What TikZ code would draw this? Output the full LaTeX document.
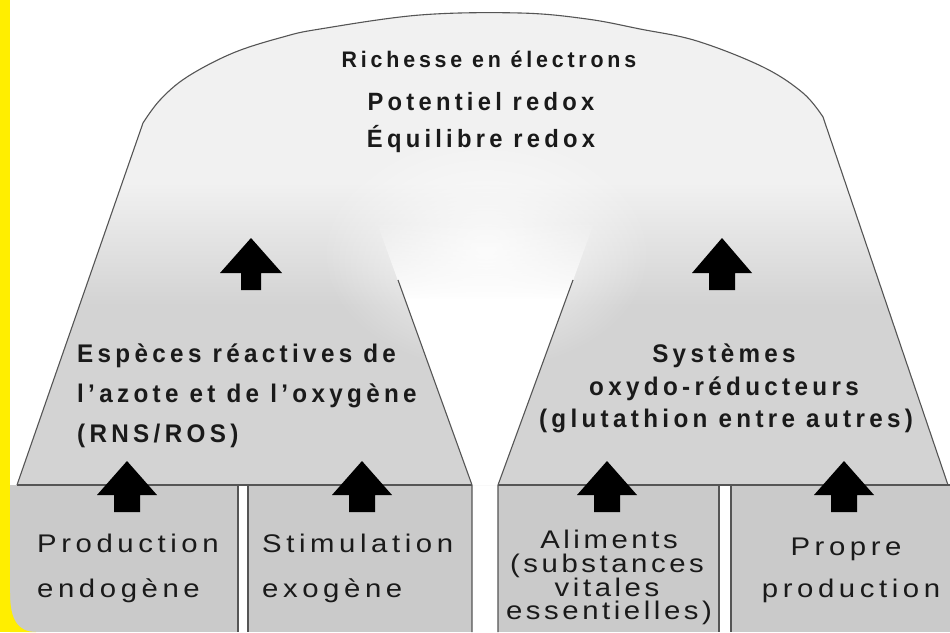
\documentclass[tikz,border=0pt]{standalone}
\usepackage{fontspec}
\usetikzlibrary{fadings}
\setmainfont{Liberation Sans}
\newfontfamily\hb{Liberation Sans}[LetterSpace=17, FakeStretch=0.95]
\newfontfamily\hr{Liberation Sans}[LetterSpace=18, FakeStretch=1.15]
\newfontfamily\hrs{Liberation Sans}[LetterSpace=14, FakeStretch=1.15]
\definecolor{gA}{HTML}{F1F1F1}
\definecolor{gB}{HTML}{D3D3D3}
\definecolor{boxc}{HTML}{CACACA}
\definecolor{lc}{HTML}{555555}
\definecolor{tc}{HTML}{1A1A1A}
\definecolor{ylw}{RGB}{255,238,0}
\pgfdeclareverticalshading{domeshade}{100bp}{color(0bp)=(gB); color(44bp)=(gB); color(57bp)=(gA); color(100bp)=(gA)}
\tikzfading[name=glowfade, inner color=transparent!15, outer color=transparent!100]
\tikzfading[name=gapfade, top color=transparent!100, bottom color=transparent!0]
\newcommand\blockarrow[6]{% cx, tip, headbase, bottom, head half width, shaft half width
  \fill[black] (#1,#2) -- ({#1+#5},#3) -- ({#1+#6},#3) -- ({#1+#6},#4) -- ({#1-#6},#4) -- ({#1-#6},#3) -- ({#1-#5},#3) -- cycle;}
\tikzset{
  bt/.style={font=\hb\bfseries\fontsize{25}{30}\selectfont, inner sep=0pt, text=tc},
  btm/.style={font=\hb\bfseries\fontsize{25.5}{30}\selectfont, inner sep=0pt, text=tc},
  btsmall/.style={font=\hb\bfseries\fontsize{22.5}{28}\selectfont, inner sep=0pt, text=tc},
  rt/.style={font=\hr\fontsize{25.5}{30}\selectfont, inner sep=0pt, text=tc},
  rts/.style={font=\hrs\fontsize{25.5}{30}\selectfont, inner sep=0pt, text=tc},
  outline/.style={draw=lc, line width=1.1pt}
}
\begin{document}
\begin{tikzpicture}[x=1pt,y=-1pt]
\useasboundingbox (0,0) rectangle (950,632);
\fill[white] (0,0) rectangle (950,632);
% dome fill
\shade[shading=domeshade] (17,485) -- (143,123) -- plot[smooth, tension=0.6] coordinates {(143,123) (160,100) (187,77) (233,53) (283,37) (320,29) (420,15) (520,13) (587,19) (640,29) (697,41) (763,67) (803,93) (823,117)} -- (948,485) -- cycle;
% soft light area above the gap
\fill[white, path fading=glowfade] (486,250) ellipse [x radius=165, y radius=120];
\fill[white, path fading=gapfade] (376,220) -- (405,300) -- (566,300) -- (595,220) -- cycle;
\fill[white] (405,299) -- (472,485) -- (498,485) -- (566,299) -- cycle;
% bottom boxes
\fill[boxc] (0,485) rectangle (238,632);
\fill[boxc] (248,485) rectangle (472,632);
\fill[boxc] (498,485) rectangle (719,632);
\fill[boxc] (731,485) rectangle (950,632);
% outlines
\draw[outline] (17,485) -- (143,123) -- plot[smooth, tension=0.6] coordinates {(143,123) (160,100) (187,77) (233,53) (283,37) (320,29) (420,15) (520,13) (587,19) (640,29) (697,41) (763,67) (803,93) (823,117)} -- (948,485);
\draw[outline] (398,280) -- (472,485) -- (472,632);
\draw[outline] (573,280) -- (498,485) -- (498,632);
\draw[outline] (17,485) -- (472,485);
\draw[outline] (498,485) -- (950,485);
\draw[outline] (238,485) -- (238,632);
\draw[outline] (248,485) -- (248,632);
\draw[outline] (719,485) -- (719,632);
\draw[outline] (731,485) -- (731,632);
% arrows
\blockarrow{251}{238}{273}{290}{31}{10}
\blockarrow{722}{238}{273}{290}{30}{13}
\blockarrow{127}{461}{495}{512}{30}{13}
\blockarrow{362}{461}{495}{512}{30}{13}
\blockarrow{607}{461}{495}{512}{30}{13}
\blockarrow{844}{461}{495}{512}{30}{13}
% top texts
\node[btsmall, anchor=base] (t1) at (489,67) {Richesse en électrons};
\node[bt, anchor=base] (t2) at (481,110) {Potentiel redox};
\node[bt, anchor=base] (t3) at (481,147) {Équilibre redox};
% left trapezoid
\node[btm, anchor=base west] (l1) at (77,362) {Espèces réactives de};
\node[btm, anchor=base west] (l2) at (77,402) {l’azote et de l’oxygène};
\node[btm, anchor=base west] (l3) at (77,442) {(RNS/ROS)};
% right trapezoid
\node[btm, anchor=base] (r1) at (724,362) {Systèmes};
\node[btm, anchor=base] (r2) at (724,395) {oxydo-réducteurs};
\node[btm, anchor=base] (r3) at (726,427) {(glutathion entre autres)};
% boxes
\node[rt, anchor=base west] (b1a) at (37,552) {Production};
\node[rt, anchor=base west] (b1b) at (37,597) {endogène};
\node[rt, anchor=base west] (b2a) at (262,552) {Stimulation};
\node[rt, anchor=base west] (b2b) at (262,597) {exogène};
\node[rts, anchor=base] (b3a) at (609,548) {Aliments};
\node[rts, anchor=base] (b3b) at (607,572) {(substances};
\node[rts, anchor=base] (b3c) at (607,596) {vitales};
\node[rts, anchor=base] (b3d) at (609,619) {essentielles)};
\node[rt, anchor=base] (b4a) at (846,555) {Propre};
\node[rt, anchor=base] (b4b) at (851,597) {production};
% yellow frame
\fill[ylw] (0,0) rectangle (10,632);
\fill[ylw] (10,593) .. controls (10,620) and (18,632) .. (36,632) -- (10,632) -- cycle;
\end{tikzpicture}
\end{document}
